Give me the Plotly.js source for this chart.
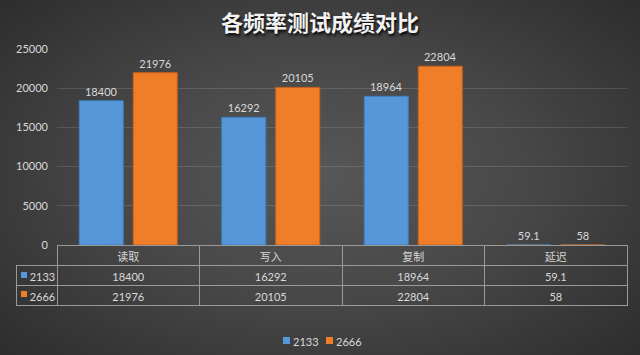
<!DOCTYPE html>
<html>
<head>
<meta charset="utf-8">
<script src="https://cdn.plot.ly/plotly-3.0.1.min.js"></script>
<style>
html,body{margin:0;padding:0;}
#chart{width:640px;height:355px;background:radial-gradient(ellipse 70% 75% at 50% 50%, #575757 0%, #484848 45%, #363636 80%, #2c2c2c 100%);}
</style>
</head>
<body>
<div id="chart"></div>
<script>
const categories = ['读取', '写入', '复制', '延迟'];
const seriesNames = ['2133', '2666'];
const values2133 = [18400, 16292, 18964, 59.1];
const values2666 = [21976, 20105, 22804, 58];
const yTicks = [0, 5000, 10000, 15000, 20000, 25000];

const blue = '#5597d8';
const orange = '#f07d27';
const txt = '#d9d9d9';
const fontFam = 'Lato, "Noto Sans CJK SC", sans-serif';

const W = 640, H = 355;
const mL = 16, mR = 13, mT = 49, mB = 45;
const plotH = H - mT - mB;
const plotW = W - mL - mR;
const tableTopPx = 245;
const splitFrac = (H - mB - tableTopPx) / plotH;
const xStart = (57 - mL) / plotW;
const pxX = px => (px - mL) / plotW;
const pxY = py => (H - mB - py) / plotH;

const barTrace = (name, vals, color, line) => ({
  type: 'bar', name: name, x: categories, y: vals,
  marker: {color: color, line: {color: line, width: vals.map(v => v > 1000 ? 1 : 0)}},
  text: vals.map(v => String(v)), textposition: 'outside',
  textfont: {color: txt, size: 11, family: fontFam},
  cliponaxis: false, hoverinfo: 'skip', showlegend: false
});

const pad = '\u00a0\u00a0';
const table = {
  type: 'table',
  domain: {x: [0, 1], y: [0, splitFrac]},
  columnwidth: [41, 142.5, 142.5, 142.5, 142.5],
  header: {
    values: [''].concat(categories),
    height: 20,
    align: 'center',
    fill: {color: 'rgba(0,0,0,0)'},
    line: {color: ['rgba(0,0,0,0)', '#9a9a9a', '#9a9a9a', '#9a9a9a', '#9a9a9a'], width: 1},
    font: {color: txt, size: 11, family: fontFam}
  },
  cells: {
    values: [[pad + seriesNames[0], pad + seriesNames[1]]]
      .concat(categories.map((c, i) => [String(values2133[i]), String(values2666[i])])),
    height: 20,
    align: ['left', 'center', 'center', 'center', 'center'],
    fill: {color: 'rgba(0,0,0,0)'},
    line: {color: '#9a9a9a', width: 1},
    font: {color: txt, size: 11, family: fontFam}
  }
};

const data = [
  barTrace(seriesNames[0], values2133, blue, '#3f7fbf'),
  barTrace(seriesNames[1], values2666, orange, '#c9621a'),
  table
];

const colors = [blue, orange];
const sq = (color, x0, y0, s) => ({
  type: 'rect', xref: 'paper', yref: 'paper',
  x0: pxX(x0), x1: pxX(x0 + s), y0: pxY(y0 + s), y1: pxY(y0),
  fillcolor: color, line: {width: 0}, layer: 'above'
});

const shapes = [
  sq(colors[0], 21, 272, 6), sq(colors[1], 21, 291, 6),
  sq(colors[0], 283, 337, 7), sq(colors[1], 326, 337, 7)
];

const legendAnn = (name, xPx) => ({
  xref: 'paper', yref: 'paper', x: pxX(xPx), y: pxY(341),
  xanchor: 'left', yanchor: 'middle', showarrow: false, borderpad: 0,
  text: name, font: {color: txt, size: 11, family: fontFam}
});

const layout = {
  width: W, height: H,
  margin: {l: mL, r: mR, t: mT, b: mB, pad: 0},
  paper_bgcolor: 'rgba(0,0,0,0)',
  plot_bgcolor: 'rgba(0,0,0,0)',
  font: {family: fontFam, color: txt, size: 11},
  title: {
    text: '各频率测试成绩对比',
    x: 0.5, xanchor: 'center', y: 1 - 23 / H, yanchor: 'middle',
    font: {family: '"Noto Sans CJK SC", sans-serif', size: 22, color: '#f2f2f2', weight: 'bold', shadow: '1px 2px 3px #000'}
  },
  barmode: 'group',
  bargap: 0.242,
  bargroupgap: 0.185,
  showlegend: false,
  shapes: shapes,
  annotations: [legendAnn(seriesNames[0], 292), legendAnn(seriesNames[1], 335)],
  xaxis: {
    domain: [xStart, 1],
    showticklabels: false, showgrid: false, zeroline: false, showline: false, ticks: ''
  },
  yaxis: {
    domain: [splitFrac, 1],
    range: [0, 25000],
    tickvals: yTicks,
    ticktext: yTicks.map(String),
    showgrid: true, gridcolor: 'rgba(255,255,255,0.13)', gridwidth: 1,
    zeroline: false, showline: false, ticks: '',
    ticklabelstandoff: 8,
    tickfont: {color: txt, size: 11, family: fontFam}
  }
};

Plotly.newPlot('chart', data, layout, {displayModeBar: false, staticPlot: true});
</script>
</body>
</html>
